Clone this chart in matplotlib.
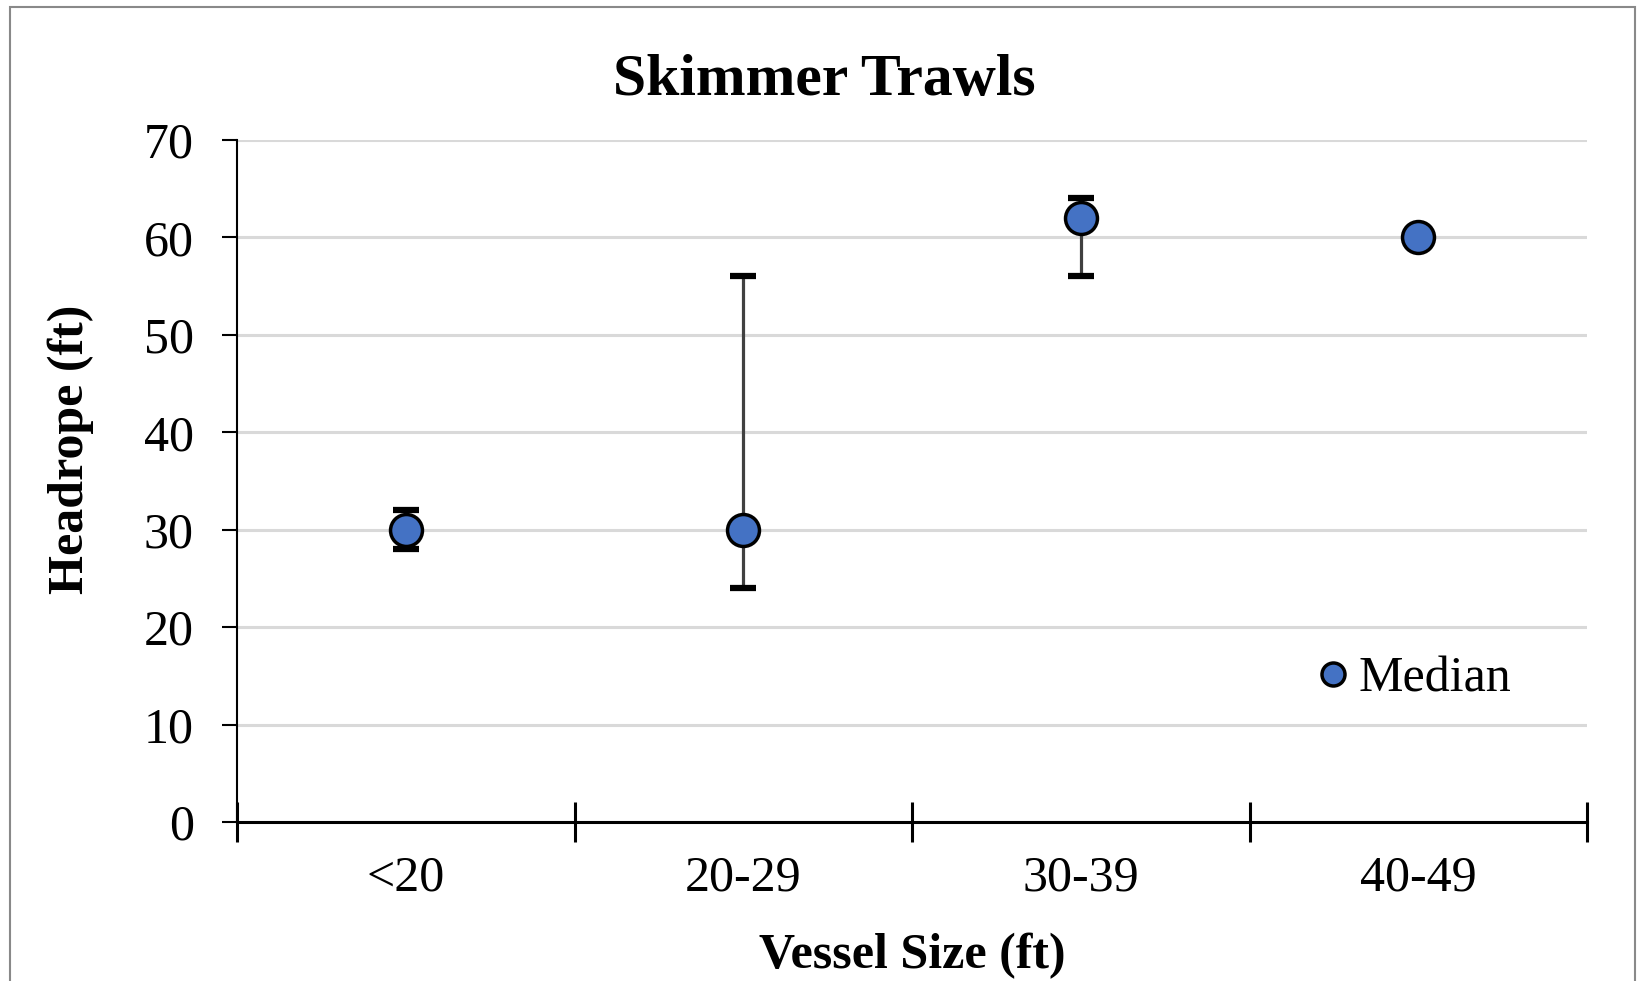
import matplotlib
matplotlib.use("Agg")
import matplotlib.pyplot as plt
from matplotlib.patches import Rectangle
import numpy as np

categories = ["<20", "20-29", "30-39", "40-49"]
median = [30, 30, 62, 60]
low = [28, 24, 56, 60]
high = [32, 56, 64, 60]
yticks = [0, 10, 20, 30, 40, 50, 60, 70]

W, H = 1638, 981
fig = plt.figure(figsize=(W / 100, H / 100), dpi=100)
plt.rcParams['font.family'] = ['Liberation Serif', 'DejaVu Serif']

L, R, T, B = 237, 1587, 140, 822
ax = fig.add_axes([L / W, 1 - B / H, (R - L) / W, (B - T) / H])

x = np.arange(len(categories)) + 0.5
med = np.array(median, float)
lo = med - np.array(low, float)
hi = np.array(high, float) - med
has_err = (lo > 0) | (hi > 0)

cont = ax.errorbar(x[has_err], med[has_err], yerr=[lo[has_err], hi[has_err]], fmt='none',
                   ecolor='#404040', elinewidth=2.3, capsize=9.5, capthick=4.5, zorder=3)
for cap in cont.lines[1]:
    cap.set_color('black')
    cap.set_markeredgecolor('black')
    cap.set_markerfacecolor('black')

ax.plot(x, med, 'o', markersize=23, markerfacecolor='#4472C4', markeredgecolor='black',
        markeredgewidth=2.5, linestyle='none', label='Median', zorder=4)

ax.set_xlim(0, 4)
ax.set_ylim(0, 70)
ax.set_yticks(yticks)
ax.set_yticklabels([str(v) for v in yticks], fontsize=36)
ax.set_xticks(x)
ax.set_xticklabels(categories, fontsize=36)
ax.set_xticks(np.arange(0, 5), minor=True)
ax.tick_params(axis='x', which='major', length=0, pad=24)
ax.tick_params(axis='x', which='minor', length=29, width=2.2, direction='inout')
ax.tick_params(axis='y', which='major', length=11, width=1.5, direction='out', pad=20)

ax.grid(axis='y', color='#D9D9D9', linewidth=2.2, zorder=0)
ax.set_axisbelow(True)
for s in ['top', 'right']:
    ax.spines[s].set_visible(False)
ax.spines['left'].set_linewidth(1.5)
ax.spines['bottom'].set_linewidth(2.2)
ax.spines['bottom'].set_zorder(5)

fig.text(824 / W, 1 - 81 / H, "Skimmer Trawls", fontsize=43, fontweight='bold',
         ha='center', va='center')
fig.text(912 / W, 1 - 956 / H, "Vessel Size (ft)", fontsize=36, fontweight='bold',
         ha='center', va='center')
fig.text(71 / W, 1 - 449 / H, "Headrope (ft)", fontsize=36, fontweight='bold',
         ha='center', va='center', rotation=90)

leg = ax.legend(loc='center left', bbox_to_anchor=((1308 - L) / (R - L), (B - 679) / (B - T)),
                frameon=False, fontsize=36, handlelength=1.0, handletextpad=0.0,
                markerscale=0.72, borderaxespad=0, borderpad=0)

fig.add_artist(Rectangle((10 / W, -0.05), (1635 - 10) / W, 1.05 - 7 / H,
                         transform=fig.transFigure, fill=False, edgecolor='#898989',
                         linewidth=1.5))

fig.savefig("out.png", dpi=100)
